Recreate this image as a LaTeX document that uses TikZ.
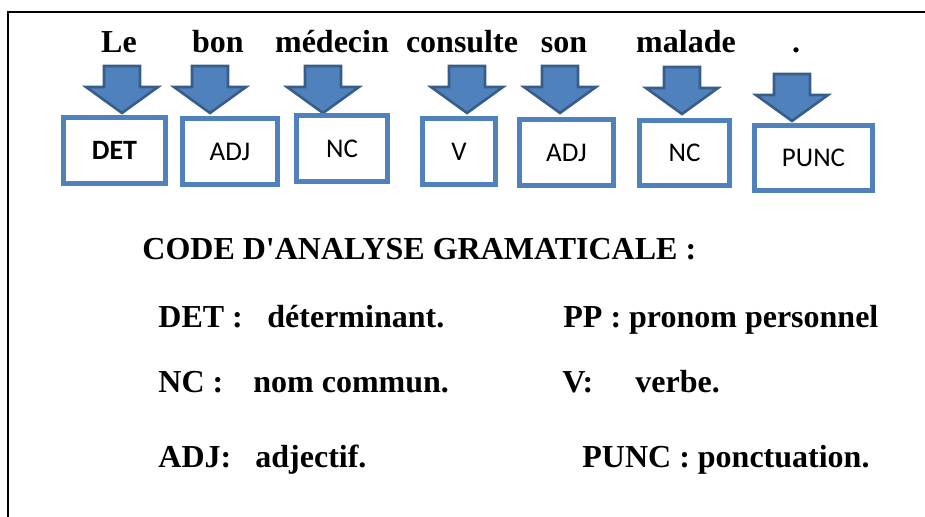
\documentclass[tikz,border=0pt]{standalone}
\usepackage{fontspec}
\setmainfont{Liberation Serif}
\newfontfamily\calibri{Carlito}
\usepackage{tikz}
\usetikzlibrary{positioning, calc}

\definecolor{boxblue}{HTML}{4F81BD}
\definecolor{arrowedge}{HTML}{385D8A}

\tikzset{
  word/.style = {anchor=base, inner sep=0pt, font=\fontsize{16}{19}\selectfont\bfseries},
  legend/.style = {anchor=base west, inner sep=0pt, font=\fontsize{16}{19}\selectfont\bfseries},
  tagbox/.style = {draw=boxblue, line width=2.5pt, fill=white, minimum height=33pt,
                   inner sep=0pt, font=\calibri\fontsize{13.5}{15}\selectfont},
  blockarrow/.style = {fill=boxblue, draw=arrowedge, line width=1.3pt, line join=miter}
}

% fleche vers le bas : #1 = centre, #2 = haut
\newcommand{\flechebas}[2]{%
  \draw[blockarrow] (#1-18,#2) -- (#1+18,#2) -- (#1+18,#2+21) -- (#1+36,#2+21)
    -- (#1,#2+47) -- (#1-36,#2+21) -- (#1-18,#2+21) -- cycle;}

\begin{document}
\begin{tikzpicture}[x=0.5pt, y=-0.5pt]
  \useasboundingbox (0,0) rectangle (925,517);
  % cadre
  \draw[line width=1.3pt] (8,517) -- (8,12) -- (925,12);

  % la phrase
  \node[word] (le) at (119,53) {Le};
  \node[word] (bon) at (218,53) {bon};
  \node[word] (medecin) at (332,53) {médecin};
  \node[word] (consulte) at (462,53) {consulte};
  \node[word] (son) at (564,53) {son};
  \node[word] (malade) at (686,53) {malade};
  \node[word] (point) at (796,53) {.};

  % fleches
  \flechebas{122}{66}
  \flechebas{210}{66}
  \flechebas{323}{66}
  \flechebas{467}{66}
  \flechebas{560}{66}
  \flechebas{682}{67}
  \flechebas{792}{74}

  % etiquettes
  \node[tagbox, minimum width=51pt] (det) at (114.5,150.5) {\fontsize{14}{16}\selectfont\bfseries DET};
  \node[tagbox, minimum width=47.5pt] (adj) at (230,151.5) {ADJ};
  \node[tagbox, minimum width=45.5pt] (nc) at (342,148.5) {NC};
  \node[tagbox, minimum width=36.5pt] (v) at (459,151.5) {V};
  \node[tagbox, minimum width=47pt] (adjb) at (566.5,152.5) {ADJ};
  \node[tagbox, minimum width=45pt, minimum height=32.5pt] (ncb) at (684.5,153) {NC};
  \node[tagbox, minimum width=59pt, minimum height=32.5pt] (punc) at (813.5,158) {PUNC};

  % legende
  \node[legend] (titre) at (142,260) {CODE D\textquotesingle ANALYSE GRAMATICALE :};
  \node[legend] (kdet) at (158,328) {DET :};
  \node[legend] (ddet) at (267,328) {déterminant.};
  \node[legend] (kpp) at (563,328) {PP : pronom personnel};
  \node[legend] (knc) at (158,393) {NC :};
  \node[legend] (dnc) at (253,393) {nom commun.};
  \node[legend] (kv) at (562,393) {V:};
  \node[legend] (dv) at (635,393) {verbe.};
  \node[legend] (kadj) at (158,467) {ADJ:};
  \node[legend] (dadj) at (255,467) {adjectif.};
  \node[legend] (kpunc) at (582,467) {PUNC : ponctuation.};
\end{tikzpicture}
\end{document}
